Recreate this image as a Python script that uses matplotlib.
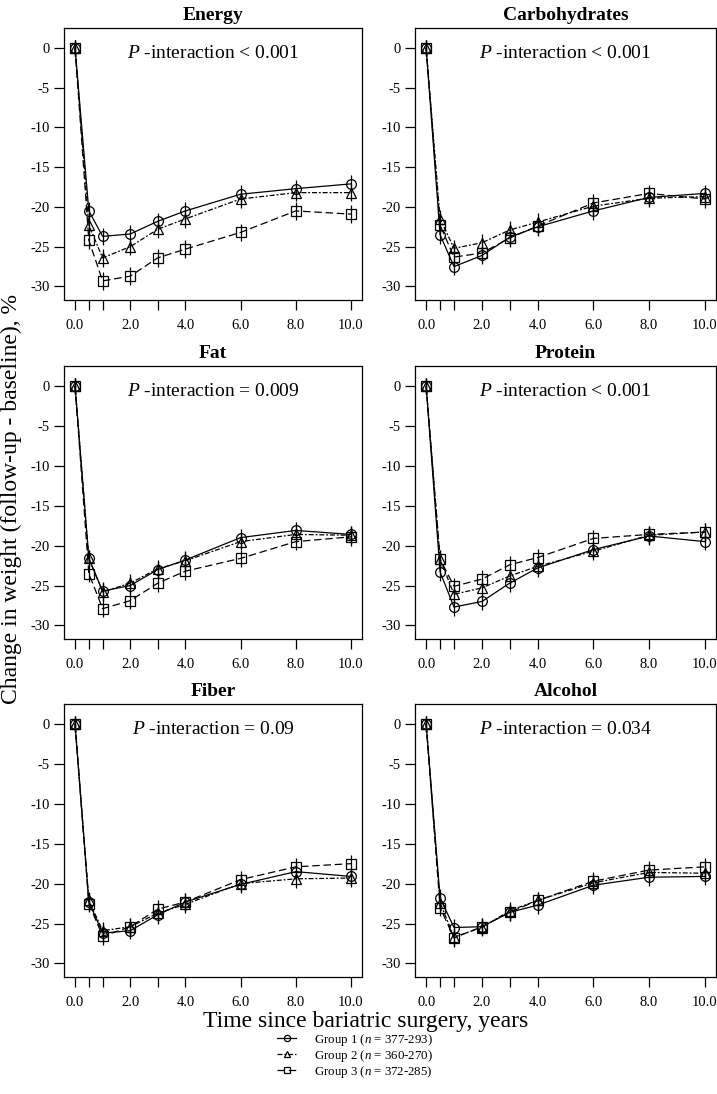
import numpy as np
import matplotlib
matplotlib.use("Agg")
import matplotlib.pyplot as plt
from matplotlib.lines import Line2D

plt.rcParams["font.family"] = ["Liberation Serif", "DejaVu Serif"]
plt.rcParams["mathtext.fontset"] = "custom"
plt.rcParams["mathtext.rm"] = "Liberation Serif"
plt.rcParams["mathtext.it"] = "Liberation Serif:italic"

# follow-up times (years)
years = [0, 0.5, 1, 2, 3, 4, 6, 8, 10]
xtick_labels = ["0.0", "", "", "2.0", "", "4.0", "6.0", "8.0", "10.0"]

panels = ["Energy", "Carbohydrates", "Fat", "Protein", "Fiber", "Alcohol"]
p_texts = ["< 0.001", "< 0.001", "= 0.009", "< 0.001", "= 0.09", "= 0.034"]

# mean % weight change per group (group 1, 2, 3)
energy_g1 = [0, -20.5, -23.7, -23.4, -21.8, -20.5, -18.4, -17.7, -17.1]
energy_g2 = [0, -22.3, -26.4, -25.0, -22.8, -21.5, -19.0, -18.2, -18.2]
energy_g3 = [0, -24.2, -29.3, -28.7, -26.4, -25.3, -23.2, -20.5, -20.9]

carb_g1 = [0, -23.5, -27.5, -26.1, -23.8, -22.5, -20.5, -18.8, -18.3]
carb_g2 = [0, -21.5, -25.2, -24.5, -22.9, -21.9, -19.9, -18.9, -18.7]
carb_g3 = [0, -22.3, -26.3, -25.8, -23.9, -22.4, -19.5, -18.3, -19.0]

fat_g1 = [0, -21.6, -25.7, -25.0, -23.0, -21.8, -19.0, -18.1, -18.6]
fat_g2 = [0, -21.6, -25.8, -24.7, -22.9, -21.9, -19.5, -18.6, -18.7]
fat_g3 = [0, -23.5, -27.9, -26.9, -24.7, -23.2, -21.6, -19.5, -18.9]

protein_g1 = [0, -23.3, -27.7, -27.0, -24.7, -22.8, -20.5, -18.8, -19.5]
protein_g2 = [0, -21.7, -26.1, -25.3, -23.8, -22.6, -20.7, -18.7, -18.3]
protein_g3 = [0, -21.7, -25.1, -24.2, -22.4, -21.5, -19.1, -18.6, -18.3]

fiber_g1 = [0, -22.3, -26.2, -25.9, -23.9, -22.3, -20.1, -18.5, -19.1]
fiber_g2 = [0, -22.1, -25.9, -25.4, -23.7, -22.6, -20.0, -19.4, -19.3]
fiber_g3 = [0, -22.5, -26.6, -25.4, -23.2, -22.3, -19.5, -17.9, -17.5]

alcohol_g1 = [0, -21.8, -25.5, -25.4, -23.6, -22.7, -20.2, -19.2, -19.1]
alcohol_g2 = [0, -22.4, -26.7, -25.5, -23.4, -22.1, -19.9, -18.6, -18.7]
alcohol_g3 = [0, -23.0, -26.8, -25.4, -23.6, -22.1, -19.7, -18.3, -17.9]

# approximate half-width of the confidence bars
ci_half = [1.0, 1.1, 1.1, 1.1, 1.1, 1.1, 1.1, 1.1, 1.1]

series = [
    (energy_g1, energy_g2, energy_g3),
    (carb_g1, carb_g2, carb_g3),
    (fat_g1, fat_g2, fat_g3),
    (protein_g1, protein_g2, protein_g3),
    (fiber_g1, fiber_g2, fiber_g3),
    (alcohol_g1, alcohol_g2, alcohol_g3),
]

group_labels = [r"Group 1 ($n$ = 377-293)", r"Group 2 ($n$ = 360-270)",
                r"Group 3 ($n$ = 372-285)"]
markers = ["o", "^", "s"]
styles = ["-", (0, (4, 1.5, 1.5, 1.5)), (0, (6, 3))]

W, H = 717, 1094
fig = plt.figure(figsize=(W / 100, H / 100), dpi=100)

cols = [(64, 362), (415, 716)]
rows = [(28, 300), (366, 639), (704, 977)]

for i, name in enumerate(panels):
    r, c = divmod(i, 2)
    x0, x1 = cols[c]
    y0, y1 = rows[r]
    ax = fig.add_axes([x0 / W, 1 - y1 / H, (x1 - x0) / W, (y1 - y0) / H])
    for g in range(3):
        ax.errorbar(years, series[i][g], yerr=ci_half, color="black", lw=0.9,
                    ls=styles[g], marker=markers[g], ms=7, mfc="none",
                    mec="black", mew=0.9, elinewidth=0.9, capsize=0)
    ax.set_xlim(-0.4, 10.4)
    ax.set_ylim(-31.7, 2.5)
    ax.set_xticks(years)
    ax.set_xticklabels(xtick_labels)
    ax.set_yticks([0, -5, -10, -15, -20, -25, -30])
    ax.set_yticklabels(["0", "-5", "-10", "-15", "-20", "-25", "-30"])
    ax.tick_params(direction="out", length=7, width=0.9, labelsize=10.5)
    ax.tick_params(axis="x", pad=6.5)
    ax.tick_params(axis="y", pad=3)
    for s in ax.spines.values():
        s.set_linewidth(0.9)
    ax.set_title(name, fontsize=14, fontweight="bold", pad=6)
    ax.text(0.5, 0.905, r"$\mathit{P}$ -interaction " + p_texts[i],
            transform=ax.transAxes, ha="center", va="center", fontsize=14)

fig.text(11 / W, 1 - 499 / H, "Change in weight (follow-up - baseline), %",
         rotation=90, ha="center", va="center", fontsize=17)
fig.text(366 / W, 1 - 1022 / H, "Time since bariatric surgery, years",
         ha="center", va="center", fontsize=17)

handles = [Line2D([], [], color="black", lw=0.9, ls=styles[g],
                  marker=markers[g], ms=4.5, mfc="none", mew=0.9)
           for g in range(3)]
fig.legend(handles, group_labels, loc="center", frameon=False,
           bbox_to_anchor=(355 / W, 1 - 1056 / H), fontsize=9.3,
           handlelength=1.5, labelspacing=0.0, handletextpad=1.4,
           borderpad=0)

fig.savefig("out.png", dpi=100)
